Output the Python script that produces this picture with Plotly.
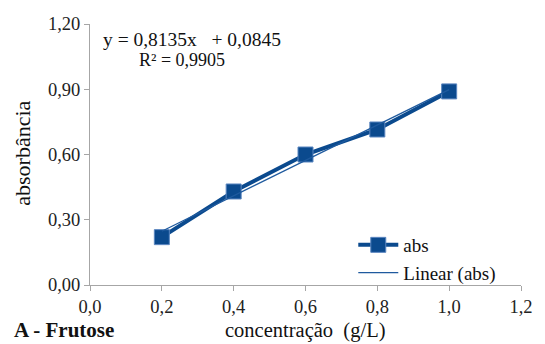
import plotly.graph_objects as go

conc = [0.2, 0.4, 0.6, 0.8, 1.0]
absorb = [0.22, 0.43, 0.60, 0.715, 0.89]
slope = 0.8135
intercept = 0.0845
x_ticks = [0.0, 0.2, 0.4, 0.6, 0.8, 1.0, 1.2]
x_tick_text = ["0,0", "0,2", "0,4", "0,6", "0,8", "1,0", "1,2"]
y_ticks = [0.0, 0.3, 0.6, 0.9, 1.2]
y_tick_text = ["0,00", "0,30", "0,60", "0,90", "1,20"]

trend = [slope * x + intercept for x in conc]

FONT = "Liberation Serif, Times New Roman, DejaVu Serif, serif"
FS = 18.5
BLUE = "#0b4a8e"

fig = go.Figure()
fig.add_trace(go.Scatter(
    x=conc, y=absorb, mode="lines+markers", name="abs",
    line=dict(color=BLUE, width=4),
    marker=dict(symbol="square", size=15, color=BLUE,
                line=dict(color="#5b86c0", width=1)),
))
fig.add_trace(go.Scatter(
    x=conc, y=trend, mode="lines", name="Linear (abs)",
    line=dict(color="#1f5a9e", width=1.3),
))

axis_common = dict(
    showgrid=False, zeroline=False, showline=True, linecolor="#a6a6a6",
    linewidth=1, ticks="outside", tickcolor="#a6a6a6", ticklen=5,
    tickfont=dict(family=FONT, size=FS, color="#222"),
)
fig.update_xaxes(range=[0, 1.2], tickvals=x_ticks, ticktext=x_tick_text, **axis_common)
fig.update_yaxes(range=[0, 1.2], tickvals=y_ticks, ticktext=y_tick_text, **axis_common)

L, R, T, B = 90, 545 - 13, 24, 344 - 59
def px(xp):
    return (xp - L) / (R - L)
def py(yp):
    return (B - yp) / (B - T)

fig.update_layout(
    width=545, height=344,
    margin=dict(l=L, r=545 - R, t=T, b=344 - B),
    paper_bgcolor="white", plot_bgcolor="white",
    font=dict(family=FONT, size=FS, color="#111"),
    legend=dict(x=px(360), y=py(226), xanchor="left", yanchor="top",
                bgcolor="rgba(0,0,0,0)", font=dict(family=FONT, size=19),
                itemwidth=40, tracegroupgap=0),
)

NB = "\u00a0"
anns = [
    dict(text=f"y = 0,8135x{NB}{NB}{NB}+ 0,0845", x=px(101), y=py(40), xanchor="left", size=19.5),
    dict(text="R² = 0,9905", x=px(138), y=py(60), xanchor="left", size=18),
    dict(text="absorbância", x=px(20), y=py(153), xanchor="center", textangle=-90, size=22),
    dict(text=f"concentração{NB}{NB}(g/L)", x=px(311), y=py(330), xanchor="center", size=20.5),
    dict(text="<b>A - Frutose</b>", x=px(10), y=py(330), xanchor="left", size=21),
]
for a in anns:
    size = a.pop("size")
    fig.add_annotation(xref="paper", yref="paper", showarrow=False, yanchor="middle",
                       font=dict(family=FONT, size=size, color="#111"), **a)

fig.write_html("out.html", config={"displayModeBar": False})
with open("out.html", "r", encoding="utf-8") as f:
    html = f.read()
html = html.replace("<head>", "<head><style>html,body{margin:0;padding:0;}</style>", 1)
with open("out.html", "w", encoding="utf-8") as f:
    f.write(html)
